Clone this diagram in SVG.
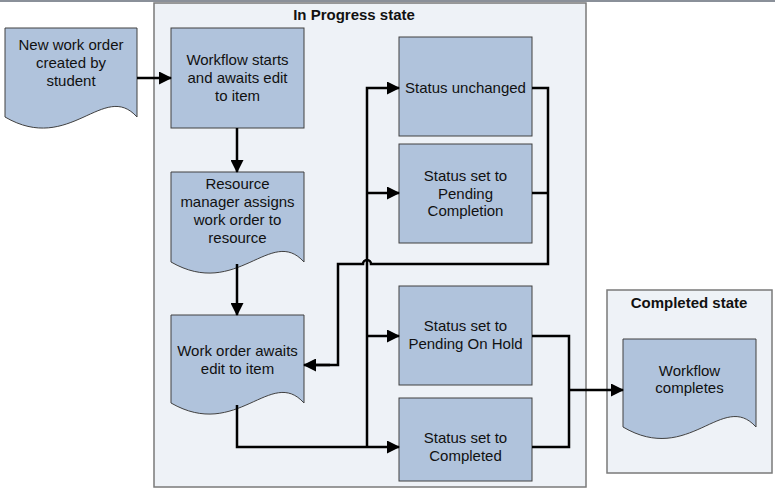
<svg xmlns="http://www.w3.org/2000/svg" width="775" height="489" viewBox="0 0 775 489">
<defs>
<marker id="ah" markerUnits="userSpaceOnUse" markerWidth="13" markerHeight="13" refX="12" refY="6.5" orient="auto">
<path d="M0,0 L13,6.5 L0,13 z" fill="#000"/>
</marker>
<style>
.cont{fill:#eef2f7;stroke:#7a7a7a;stroke-width:1.5}
.node{fill:#b0c3dc;stroke:#404040;stroke-width:1}
.t{font-family:"Liberation Sans",Arial,sans-serif;font-size:15px;fill:#111;text-anchor:middle}
.title{font-family:"Liberation Sans",Arial,sans-serif;font-size:15px;font-weight:bold;fill:#111;text-anchor:middle}
.c{fill:none;stroke:#000;stroke-width:2.5}
.ca{fill:none;stroke:#000;stroke-width:2.5;marker-end:url(#ah)}
</style>
</defs>
<rect x="0" y="0" width="775" height="489" fill="#fff"/>
<rect x="0" y="0" width="775" height="2" fill="#8a9099"/>

<g id="inprogress">
<rect class="cont" x="154" y="3" width="432" height="484"/>
<text class="title" x="354" y="20">In Progress state</text>
</g>
<g id="completedstate">
<rect class="cont" x="607" y="290" width="165" height="183"/>
<text class="title" x="689" y="308">Completed state</text>
</g>

<g id="newworkorder">
<path class="node" d="M5,28 H137 V117 C104,80 70,155 5,117 Z"/>
<text class="t" x="71" y="50">New work order</text>
<text class="t" x="71" y="68">created by</text>
<text class="t" x="71" y="86">student</text>
</g>

<g id="workflowstarts">
<rect class="node" x="171" y="28" width="133" height="100"/>
<text class="t" x="237.5" y="65">Workflow starts</text>
<text class="t" x="237.5" y="83">and awaits edit</text>
<text class="t" x="237.5" y="101">to item</text>
</g>

<g id="resourcemanager">
<path class="node" d="M171,172 H304 V262 C271,225 237,300 171,262 Z"/>
<text class="t" x="237.5" y="189">Resource</text>
<text class="t" x="237.5" y="207">manager assigns</text>
<text class="t" x="237.5" y="225">work order to</text>
<text class="t" x="237.5" y="243">resource</text>
</g>

<g id="workorderawaits">
<path class="node" d="M171,315 H304 V403 C271,366 237,441 171,403 Z"/>
<text class="t" x="237.5" y="356">Work order awaits</text>
<text class="t" x="237.5" y="374">edit to item</text>
</g>

<g id="statusunchanged">
<rect class="node" x="399" y="37" width="133" height="99"/>
<text class="t" x="465.5" y="93">Status unchanged</text>
</g>

<g id="pendingcompletion">
<rect class="node" x="399" y="144" width="133" height="99"/>
<text class="t" x="465.5" y="181">Status set to</text>
<text class="t" x="465.5" y="198.5">Pending</text>
<text class="t" x="465.5" y="216">Completion</text>
</g>

<g id="pendingonhold">
<rect class="node" x="399" y="286" width="133" height="99"/>
<text class="t" x="465.5" y="331">Status set to</text>
<text class="t" x="465.5" y="349">Pending On Hold</text>
</g>

<g id="completed">
<rect class="node" x="399" y="398" width="133" height="83"/>
<text class="t" x="465.5" y="443">Status set to</text>
<text class="t" x="465.5" y="461">Completed</text>
</g>

<g id="workflowcompletes">
<path class="node" d="M623,339 H756 V427 C723,390 689,466 623,427 Z"/>
<text class="t" x="689.5" y="376">Workflow</text>
<text class="t" x="689.5" y="393">completes</text>
</g>

<g id="connectors">
<path class="ca" d="M137,78 H171"/>
<path class="ca" d="M237,128 V172"/>
<path class="ca" d="M237,264 V315"/>
<path class="ca" d="M237,405 V447 H399"/>
<path class="ca" d="M367,447 V88 H399"/>
<path class="ca" d="M367,193 H399"/>
<path class="ca" d="M367,336 H399"/>
<path class="c" d="M532,88 H548 V264 H371 a4,4 0 0 0 -8,0 H338 V365 H316"/>
<path class="ca" d="M330,365 H304"/>
<path class="c" d="M532,193 H548"/>
<path class="c" d="M532,336 H569 V447 H532"/>
<path class="ca" d="M569,390 H623"/>
</g>
</svg>
